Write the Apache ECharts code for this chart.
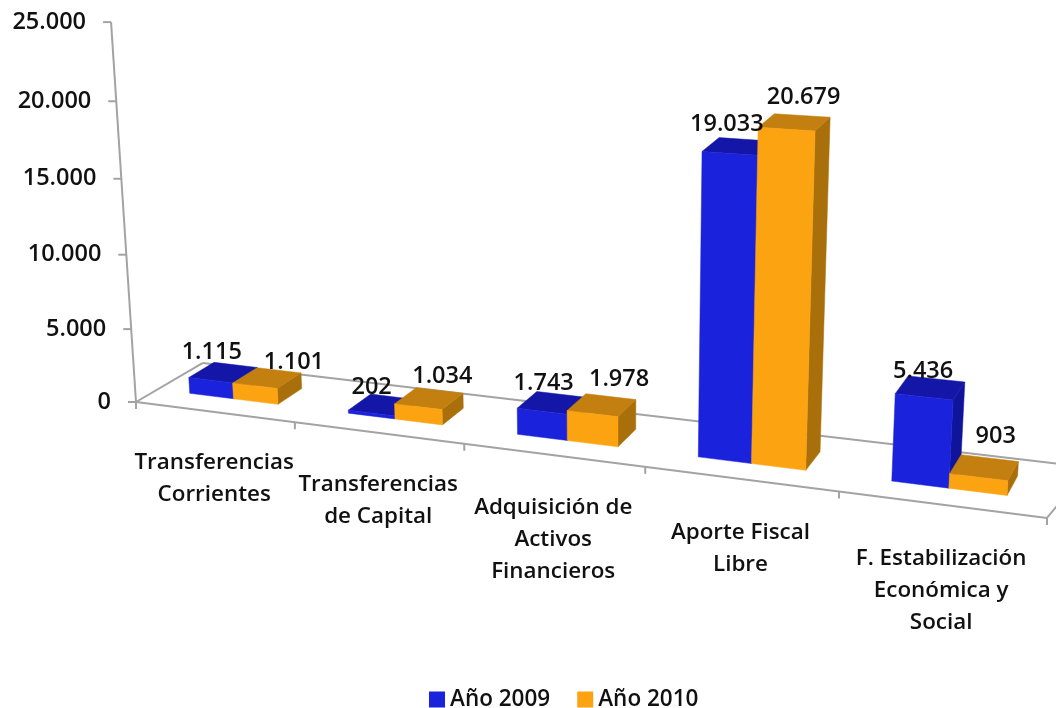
<!DOCTYPE html>
<html>
<head>
<meta charset="utf-8">
<script src="https://cdn.jsdelivr.net/npm/echarts@6/dist/echarts.min.js"></script>
<style>
  html, body { margin: 0; padding: 0; background: #fff; }
  #chart { width: 1056px; height: 708px; }
</style>
</head>
<body>
<div id="chart"></div>
<script>
const categories = ['Transferencias\nCorrientes', 'Transferencias\nde Capital', 'Adquisición de\nActivos\nFinancieros', 'Aporte Fiscal\nLibre', 'F. Estabilización\nEconómica y\nSocial']
const values2009 = [1115, 202, 1743, 19033, 5436]
const values2010 = [1101, 1034, 1978, 20679, 903]
const tickValues = [0, 5000, 10000, 15000, 20000, 25000]
const tickLabels = ['0', '5.000', '10.000', '15.000', '20.000', '25.000']

const GRID = { left: 136, top: 22, width: 911, height: 380 }
const FONT = '"Open Sans", Lato, sans-serif'
const LINE = '#a3a3a3'
const DEPTH_FRONT = 0.31
const DEPTH_BACK = 0.7
const BAR_SHARE = 0.282 // one bar as a share of the category band
const BAR_SHIFT = -0.025
const BAR_RISE = 0.98

// hand placed data labels, measured from the middle of the bar's front top edge
const labelOffset2009 = [[1, -28], [0, -26], [1.5, -28], [-3, -29], [-1, -26]]
const labelOffset2010 = [[39, -23], [24, -30], [26.5, -34], [17, -32], [17, -41]]

const colors2009 = { front: '#1a22dc', top: '#1416a8', side: '#10149a' }
const colors2010 = { front: '#fca311', top: '#c37f0f', side: '#a96f0a' }

function denom (u, v, w) {
  return 1 - 0.155 * u - 0.05 * v + 0.036 * w
}

// perspective of the 3d box: u along the categories, v up the values, w into the page
function project (u, v, w) {
  const den = denom(u, v, w)
  return [
    (136 + 748.7 * u - 30.5 * v + 74.2 * w) / den,
    (402 + 35.7 * u - 381 * v - 26 * w) / den
  ]
}

// the bars run into the page a bit more steeply towards the right
function projectBar (u, v, w) {
  const p = project(u, v * BAR_RISE, w)
  p[0] += 3 - 5 * u - (1 + 16 * u) * (w - DEPTH_FRONT)
  return p
}

function toBox (api, cat, value) {
  const p = api.coord([cat, value])
  return {
    u: (p[0] - GRID.left) / GRID.width,
    v: (GRID.top + GRID.height - p[1]) / GRID.height
  }
}

function face (points, fill) {
  return { type: 'polygon', shape: { points }, style: { fill, stroke: fill, lineWidth: 0.5 } }
}

function seg (a, b) {
  return { type: 'line', shape: { x1: a[0], y1: a[1], x2: b[0], y2: b[1] }, style: { stroke: LINE, lineWidth: 2 } }
}

function label (text, x, y, align, size) {
  return {
    type: 'text',
    z2: 20,
    style: { text, x, y, align, verticalAlign: 'middle', fill: '#111', fontFamily: FONT, fontSize: size, fontWeight: 600, lineHeight: 32 }
  }
}

function fmt (v) {
  return String(v).replace(/\B(?=(\d{3})+$)/g, '.')
}

function barSeries (name, data, colors, slot, offsets) {
  return {
    name,
    type: 'custom',
    z: 3,
    itemStyle: { color: colors.front },
    data: data.map((v, i) => [i, v]),
    renderItem (params, api) {
      const cat = api.value(0)
      const val = api.value(1)
      const band = api.size([1, 0])[0] / GRID.width
      const base = toBox(api, cat, 0)
      const box = toBox(api, cat, val)
      const u0 = base.u + ((slot - 1) * BAR_SHARE + BAR_SHIFT) * band
      const u1 = u0 + BAR_SHARE * band
      const v = box.v
      const a = projectBar(u0, 0, DEPTH_FRONT)
      const b = projectBar(u1, 0, DEPTH_FRONT)
      const c = projectBar(u1, v, DEPTH_FRONT)
      const d = projectBar(u0, v, DEPTH_FRONT)
      const e = projectBar(u0, v, DEPTH_BACK)
      const f = projectBar(u1, v, DEPTH_BACK)
      const g = projectBar(u1, 0, DEPTH_BACK)
      const off = offsets[cat]
      return {
        type: 'group',
        children: [
          face([b, g, f, c], colors.side),
          face([d, c, f, e], colors.top),
          face([a, b, c, d], colors.front),
          label(fmt(val), (c[0] + d[0]) / 2 + off[0], (c[1] + d[1]) / 2 + off[1], 'center', 23.5)
        ]
      }
    }
  }
}

const frameSeries = {
  name: 'frame',
  type: 'custom',
  z: 1,
  silent: true,
  data: [[0, 0]],
  renderItem () {
    return {
      type: 'group',
      children: [
        seg(project(0, 0, 0), project(0, 1, 0)),
        seg(project(0, 0, 0), project(1, 0, 0)),
        seg(project(0, 0, 0), project(0, 0, 1)),
        seg(project(0, 0, 1), project(1, 0, 1)),
        seg(project(1, 0, 0), project(1, 0, 1))
      ]
    }
  }
}

const valueTickSeries = {
  name: 'valueTicks',
  type: 'custom',
  z: 1,
  silent: true,
  data: tickValues.map((v, i) => [0, v, i]),
  renderItem (params, api) {
    const box = toBox(api, 0, api.value(1))
    const p = project(0, box.v, 0)
    return {
      type: 'group',
      children: [
        seg([p[0] - 8, p[1]], p),
        label(tickLabels[api.value(2)], p[0] - 25, p[1], 'right', 23.5)
      ]
    }
  }
}

const categoryTickSeries = {
  name: 'categoryTicks',
  type: 'custom',
  z: 1,
  silent: true,
  data: categories.map((c, i) => [i, 0]),
  renderItem (params, api) {
    const i = api.value(0)
    const band = api.size([1, 0])[0] / GRID.width
    const box = toBox(api, i, 0)
    const left = project(box.u - band / 2, 0, 0)
    const right = project(box.u + band / 2, 0, 0)
    const mid = project(box.u, 0, 0)
    const children = [
      seg(right, [right[0], right[1] + 7]),
      label(categories[i], mid[0], mid[1] + 34 + 5 * box.u, 'center', 22.4)
    ]
    children[1].style.verticalAlign = 'top'
    if (i === 0) children.push(seg(left, [left[0], left[1] + 7]))
    return { type: 'group', children }
  }
}

const chart = echarts.init(document.getElementById('chart'))
chart.setOption({
  animation: false,
  backgroundColor: '#fff',
  grid: GRID,
  xAxis: { type: 'category', data: categories, show: false },
  yAxis: { type: 'value', min: 0, max: 25000, interval: 5000, show: false },
  legend: {
    data: ['Año 2009', 'Año 2010'],
    top: 683,
    left: 424,
    icon: 'rect',
    itemWidth: 16,
    itemHeight: 16,
    itemGap: 27,
    textStyle: { fontFamily: FONT, fontSize: 22.5, fontWeight: 600, color: '#111' }
  },
  series: [
    frameSeries,
    valueTickSeries,
    categoryTickSeries,
    barSeries('Año 2009', values2009, colors2009, 0, labelOffset2009),
    barSeries('Año 2010', values2010, colors2010, 1, labelOffset2010)
  ]
})
</script>
</body>
</html>
